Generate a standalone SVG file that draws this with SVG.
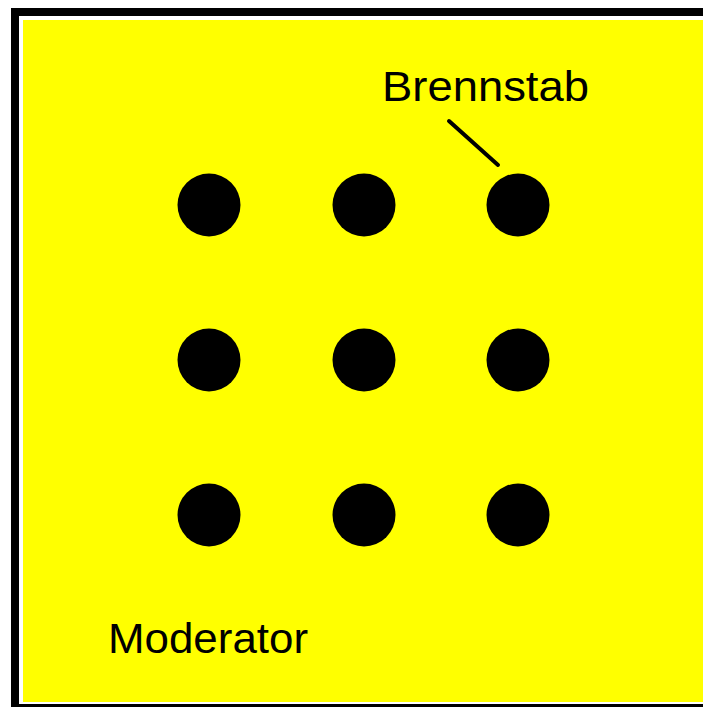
<svg xmlns="http://www.w3.org/2000/svg" width="703" height="707" viewBox="0 0 703 707">
<style>
.rod{fill:#000}
.lbl{font-family:"Liberation Sans",Arial,sans-serif;font-size:42px;fill:#000}
</style>
<rect width="703" height="707" fill="#fff"/>
<rect x="11" y="8" width="720" height="720" fill="#000"/>
<rect x="19" y="16" width="720" height="688" fill="#fff"/>
<rect x="23" y="20" width="720" height="682" fill="#ff0"/>
<g id="rods">
<circle id="rod11" class="rod" cx="209" cy="205" r="31.5"/>
<circle id="rod12" class="rod" cx="364" cy="205" r="31.5"/>
<circle id="rod13" class="rod" cx="518" cy="205" r="31.5"/>
<circle id="rod21" class="rod" cx="209" cy="360" r="31.5"/>
<circle id="rod22" class="rod" cx="364" cy="360" r="31.5"/>
<circle id="rod23" class="rod" cx="518" cy="360" r="31.5"/>
<circle id="rod31" class="rod" cx="209" cy="515" r="31.5"/>
<circle id="rod32" class="rod" cx="364" cy="515" r="31.5"/>
<circle id="rod33" class="rod" cx="518" cy="515" r="31.5"/>
</g>
<g id="connectors">
<line x1="449" y1="121" x2="498" y2="165" stroke="#000" stroke-width="4" stroke-linecap="round"/>
</g>
<g id="label-brennstab"><text class="lbl" x="382" y="101" textLength="207" lengthAdjust="spacingAndGlyphs">Brennstab</text></g>
<g id="label-moderator"><text class="lbl" x="108" y="653" font-size="44" textLength="200" lengthAdjust="spacingAndGlyphs">Moderator</text></g>
</svg>
